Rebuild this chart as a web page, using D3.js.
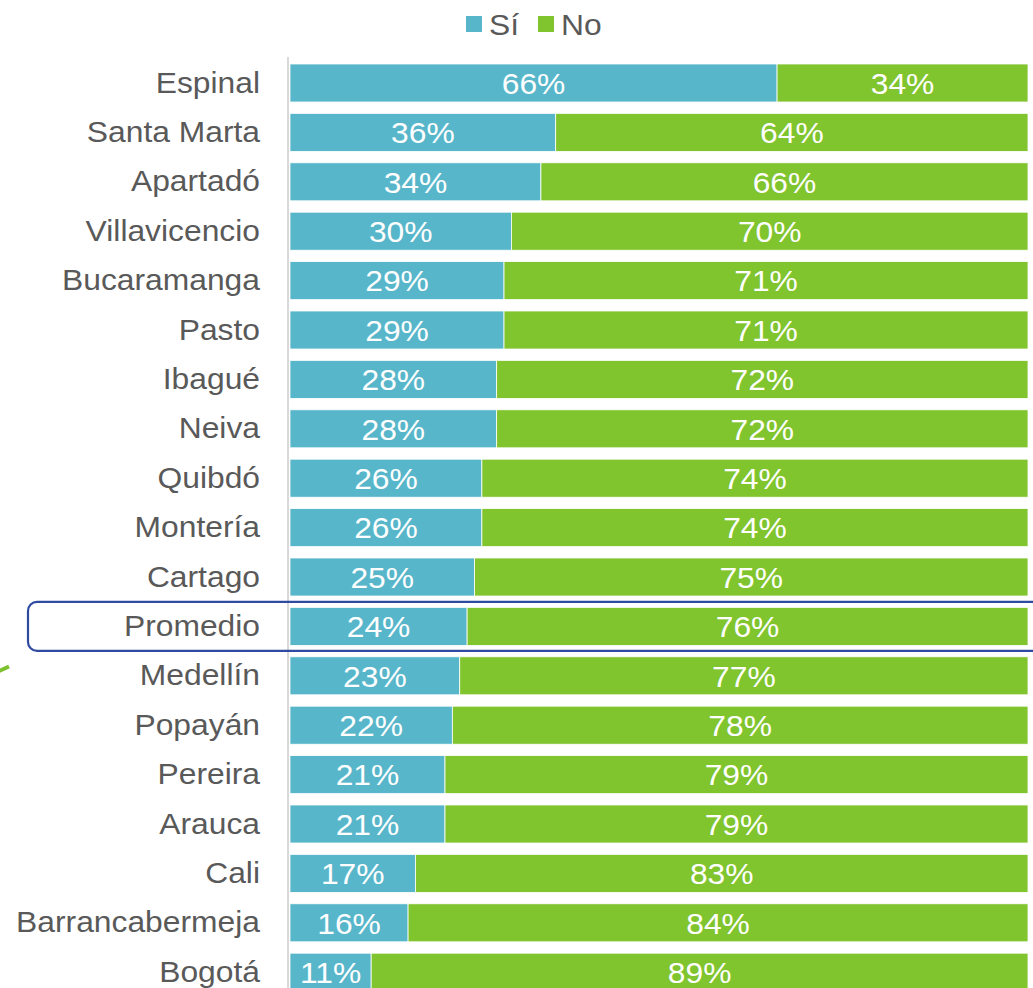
<!DOCTYPE html>
<html>
<head>
<meta charset="utf-8">
<script src="https://cdn.jsdelivr.net/npm/d3@7"></script>
<style>
  body { margin: 0; background: #fff; }
  text { font-family: "Liberation Sans", Arial, sans-serif; }
</style>
</head>
<body>
<svg id="chart"></svg>
<script>
const width = 1033;
const height = 988;

// data
const cities = ['Espinal', 'Santa Marta', 'Apartadó', 'Villavicencio', 'Bucaramanga', 'Pasto',
  'Ibagué', 'Neiva', 'Quibdó', 'Montería', 'Cartago', 'Promedio', 'Medellín', 'Popayán',
  'Pereira', 'Arauca', 'Cali', 'Barrancabermeja', 'Bogotá'];
const si = [66, 36, 34, 30, 29, 29, 28, 28, 26, 26, 25, 24, 23, 22, 21, 21, 17, 16, 11];
const no = [34, 64, 66, 70, 71, 71, 72, 72, 74, 74, 75, 76, 77, 78, 79, 79, 83, 84, 89];
const seriesNames = ['Sí', 'No'];
const seriesColors = ['#58B6CA', '#80C42E'];
const highlight = 'Promedio';

// the source text is a little wider than the font
const stretch = 1.06;

const svg = d3.select('#chart')
  .attr('width', width)
  .attr('height', height);

const x = d3.scaleLinear().domain([0, 100]).range([290, 1028]);
const y = d3.scaleBand()
  .domain(cities)
  .range([58.3, 996.9])
  .paddingInner(0.23)
  .paddingOuter(0.115);

const rows = cities.map((c, i) => ({ city: c, values: [si[i], no[i]] }));
const stack = d3.stack().keys([0, 1]).value((d, k) => d.values[k]);
const layers = stack(rows);

// bars
const layer = svg.append('g')
  .selectAll('g')
  .data(layers)
  .join('g')
  .attr('fill', (d, i) => seriesColors[i]);

layer.selectAll('rect')
  .data(d => d)
  .join('rect')
  .attr('x', d => x(d[0]))
  .attr('y', d => y(d.data.city))
  .attr('width', d => x(d[1]) - x(d[0]))
  .attr('height', y.bandwidth())
  .attr('stroke', '#fff')
  .attr('stroke-width', 0.8);

layer.selectAll('text')
  .data(d => d)
  .join('text')
  .attr('transform', d =>
    `translate(${(x(d[0]) + x(d[1])) / 2},${y(d.data.city) + y.bandwidth() / 2}) scale(${stretch},1)`)
  .attr('dy', '0.36em')
  .attr('text-anchor', 'middle')
  .attr('fill', '#fff')
  .style('font-size', '30px')
  .text(d => `${d[1] - d[0]}%`);

// category axis
const yAxis = svg.append('g')
  .attr('transform', 'translate(288,0)')
  .call(d3.axisLeft(y).tickSize(0).tickPadding(28));
yAxis.select('.domain').remove();
yAxis.append('line')
  .attr('y1', 57).attr('y2', height)
  .attr('stroke', '#D9D9D9')
  .attr('stroke-width', 2);
yAxis.selectAll('.tick text')
  .attr('x', -28 / stretch)
  .attr('transform', `scale(${stretch},1)`)
  .attr('fill', '#595959')
  .style('font-size', '30px')
  .style('font-family', '"Liberation Sans", Arial, sans-serif');

// highlight box round the average row
const hy = y(highlight);
svg.append('rect')
  .attr('x', 28)
  .attr('y', hy + y.bandwidth() / 2 - 24.5)
  .attr('width', 1020)
  .attr('height', 49)
  .attr('rx', 9)
  .attr('fill', 'none')
  .attr('stroke', '#2F4B9F')
  .attr('stroke-width', 2.2);

// bit of a green arrow sticking in from the left edge
svg.append('line')
  .attr('x1', -2).attr('y1', 671.5)
  .attr('x2', 9).attr('y2', 666.5)
  .attr('stroke', '#7DC12F')
  .attr('stroke-width', 4);

// legend
const legend = svg.append('g').attr('transform', 'translate(466,0)');
const items = legend.selectAll('g')
  .data(seriesNames)
  .join('g')
  .attr('transform', (d, i) => `translate(${i * 72},0)`);
items.append('rect')
  .attr('x', 0).attr('y', 16)
  .attr('width', 16).attr('height', 16)
  .attr('fill', (d, i) => seriesColors[i]);
items.append('text')
  .attr('transform', `translate(23,24) scale(${stretch},1)`)
  .attr('dy', '0.36em')
  .attr('fill', '#595959')
  .style('font-size', '30px')
  .text(d => d);
</script>
</body>
</html>
